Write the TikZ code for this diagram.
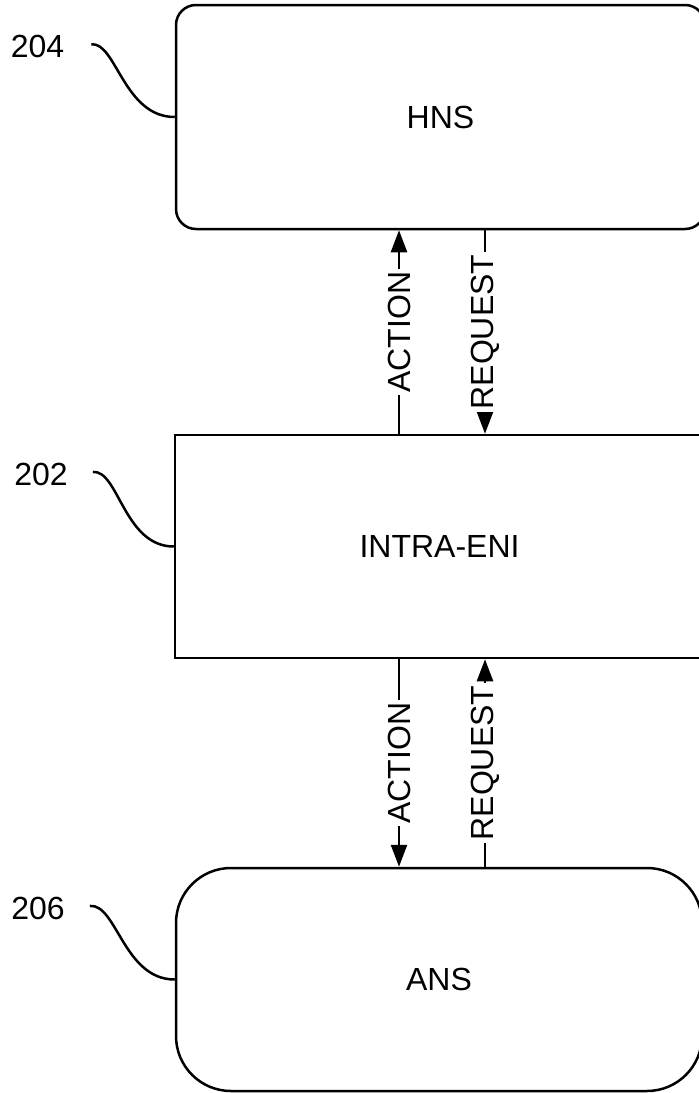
\documentclass[tikz,border=0pt]{standalone}
\usepackage{fontspec}
\setmainfont{Liberation Sans}
\usetikzlibrary{arrows.meta, positioning}

\begin{document}
\begin{tikzpicture}[x=1pt, y=-1pt, line width=2.5pt,
    box/.style={draw, minimum width=529pt, minimum height=223pt, font=\fontsize{32}{36}\selectfont},
    flow/.style={-{Triangle[length=22pt, width=16pt]}},
    lbl/.style={fill=white, rotate=90, inner sep=3pt, font=\fontsize{32}{36}\selectfont},
    refnum/.style={font=\fontsize{32}{36}\selectfont, inner sep=0pt}]
    \useasboundingbox (0,0) rectangle (699,1093);
    \clip (0,0) rectangle (699,1093);

    % Boxes
    \node[box, rounded corners=20pt, minimum height=224pt] (hns) at (440.5,117) {HNS};
    \node[box] (eni) at (439.5,546.5) {INTRA-ENI};
    \node[box, rounded corners=55pt, minimum width=526pt] (ans) at (439,979.5) {ANS};

    % Reference numerals
    \node[refnum] (l204) at (37.5,46.5) {204};
    \node[refnum] (l202) at (41,474) {202};
    \node[refnum] (l206) at (38,908) {206};

    \draw[shorten <=26pt] (l204.east) to[out=5, in=180] (hns.west);
    \draw[shorten <=24pt] (l202.east) to[out=5, in=180] (eni.west);
    \draw[shorten <=24pt] (l206.east) to[out=5, in=180] (ans.west);

    % Signal lines
    \coordinate (act) at (399,0);
    \coordinate (req) at (485,0);

    \draw[flow] (eni.north -| act) -- node[lbl] {ACTION} (hns.south -| act);
    \draw[flow] (hns.south -| req) -- node[lbl] {REQUEST} (eni.north -| req);
    \draw[flow] (eni.south -| act) -- node[lbl] {ACTION} (ans.north -| act);
    \draw[flow] (ans.north -| req) -- node[lbl] {REQUEST} (eni.south -| req);
\end{tikzpicture}
\end{document}
